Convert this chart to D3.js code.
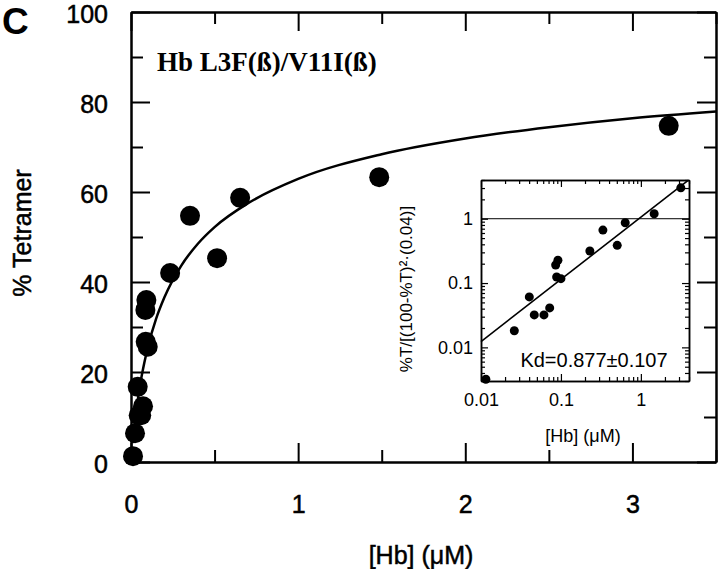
<!DOCTYPE html>
<html>
<head>
<meta charset="utf-8">
<script src="https://cdn.jsdelivr.net/npm/d3@7/dist/d3.min.js"></script>
<style>
  body { margin: 0; background: #fff; }
  svg { display: block; }
  text { font-family: "Liberation Sans", Arial, Helvetica, sans-serif; fill: #000; }
  .heavy { stroke: #000; stroke-width: 0.5px; }
</style>
</head>
<body>
<svg id="chart" width="720" height="569"></svg>
<script>
// ---- Main panel data ----
const hbMain = [0.012, 0.024, 0.040, 0.046, 0.061, 0.072, 0.086, 0.092, 0.088, 0.100, 0.234, 0.353, 0.515, 0.653, 1.485, 3.217];
const tetramer = [1.3, 6.4, 16.7, 10.4, 10.4, 12.4, 33.8, 36.0, 26.7, 25.6, 42.0, 54.7, 45.3, 58.7, 63.3, 74.7];
// fitted curve
const curveHb = [0.01, 0.02, 0.04, 0.06, 0.08, 0.1, 0.15, 0.2, 0.3, 0.4, 0.5, 0.7, 1.0, 1.5, 2.0, 2.5, 3.0, 3.5];
const curveT  = [4.2, 7.8, 13.6, 18.3, 22.1, 25.4, 31.8, 36.6, 43.6, 48.5, 52.2, 57.5, 62.9, 68.4, 71.9, 74.4, 76.4, 77.9];
const xMajorTicks = [0, 1, 2, 3];
const xMinorTicks = [0.5, 1.5, 2.5, 3.5];
const yMajorTicks = [0, 20, 40, 60, 80, 100];
const yMinorTicks = [10, 30, 50, 70, 90];

// ---- Inset data ----
const hbInset = [0.0115, 0.0261, 0.0402, 0.0464, 0.0613, 0.0723, 0.0859, 0.0917, 0.0884, 0.100, 0.230, 0.335, 0.506, 0.637, 1.466, 3.16];
const ratioInset = [0.0032, 0.0181, 0.0609, 0.032, 0.032, 0.0411, 0.191, 0.226, 0.124, 0.117, 0.315, 0.666, 0.386, 0.867, 1.195, 3.02];
const fitHb = [0.01, 3.9];
const fitRatio = [0.0123, 3.95];
const insetXTicks = [0.01, 0.1, 1];
const insetYTicks = [0.01, 0.1, 1];

const panelLetter = "C";
const titleText = "Hb L3F(ß)/V11I(ß)";
const xTitle = "[Hb] (μM)";
const yTitle = "% Tetramer";
const insetXTitle = "[Hb] (μM)";
const insetYTitle = "%T/[(100-%T)²·(0.04)]";
const kdText = "Kd=0.877±0.107";

const svg = d3.select("#chart");

// ---- Main scales ----
const x = d3.scaleLinear().domain([0, 3.5]).range([131, 716]);
const y = d3.scaleLinear().domain([0, 100]).range([462, 12]);

function styleAxis(g, w) {
  g.selectAll("path.domain").attr("stroke", "#000").attr("stroke-width", w);
  g.selectAll(".tick line").attr("stroke", "#000").attr("stroke-width", w);
}

// bottom
const gB = svg.append("g").attr("transform", `translate(0,${y(0)})`);
gB.call(d3.axisBottom(x).tickValues(xMajorTicks).tickSizeInner(-19).tickSizeOuter(0).tickPadding(33).tickFormat(d3.format("d")));
gB.selectAll("text").attr("font-size", 25).attr("class", "heavy");
styleAxis(gB, 2);
const gBm = svg.append("g").attr("transform", `translate(0,${y(0)})`);
gBm.call(d3.axisBottom(x).tickValues(xMinorTicks).tickSizeInner(-12).tickSizeOuter(0).tickFormat(""));
styleAxis(gBm, 2);
// top
const gT = svg.append("g").attr("transform", `translate(0,${y(100)})`);
gT.call(d3.axisTop(x).tickValues(xMajorTicks).tickSizeInner(-19).tickSizeOuter(0).tickFormat(""));
styleAxis(gT, 2);
const gTm = svg.append("g").attr("transform", `translate(0,${y(100)})`);
gTm.call(d3.axisTop(x).tickValues(xMinorTicks).tickSizeInner(-12).tickSizeOuter(0).tickFormat(""));
styleAxis(gTm, 2);
// left
const gL = svg.append("g").attr("transform", `translate(${x(0)},0)`);
gL.call(d3.axisLeft(y).tickValues(yMajorTicks).tickSizeInner(-19).tickSizeOuter(0).tickPadding(23).tickFormat(d3.format("d")));
gL.selectAll("text").attr("font-size", 25).attr("dy", "0.42em").attr("class", "heavy");
styleAxis(gL, 2);
const gLm = svg.append("g").attr("transform", `translate(${x(0)},0)`);
gLm.call(d3.axisLeft(y).tickValues(yMinorTicks).tickSizeInner(-12).tickSizeOuter(0).tickFormat(""));
styleAxis(gLm, 2);
// right
const gR = svg.append("g").attr("transform", `translate(${x(3.5)},0)`);
gR.call(d3.axisRight(y).tickValues(yMajorTicks).tickSizeInner(-19).tickSizeOuter(0).tickFormat(""));
styleAxis(gR, 2);
const gRm = svg.append("g").attr("transform", `translate(${x(3.5)},0)`);
gRm.call(d3.axisRight(y).tickValues(yMinorTicks).tickSizeInner(-12).tickSizeOuter(0).tickFormat(""));
styleAxis(gRm, 2);

// curve
const curvePts = curveHb.map((v, i) => [v, curveT[i]]);
svg.append("path")
  .datum(curvePts)
  .attr("fill", "none").attr("stroke", "#000").attr("stroke-width", 2.5)
  .attr("d", d3.line().x(d => x(d[0])).y(d => y(d[1])).curve(d3.curveMonotoneX));

// main points
svg.append("g").selectAll("circle")
  .data(hbMain.map((v, i) => [v, tetramer[i]]))
  .join("circle")
  .attr("cx", d => x(d[0])).attr("cy", d => y(d[1])).attr("r", 10)
  .attr("fill", "#000");

// texts
svg.append("text").attr("x", 2).attr("y", 34).attr("font-size", 37).attr("font-weight", "bold").text(panelLetter);
svg.append("text").attr("x", 157).attr("y", 71).attr("font-size", 27).attr("font-weight", "bold")
  .style("font-family", "'Liberation Serif', 'Times New Roman', serif").text(titleText);
svg.append("text").attr("x", 421).attr("y", 564).attr("text-anchor", "middle").attr("font-size", 25).attr("class", "heavy").text(xTitle);
svg.append("text").attr("transform", "translate(31,233) rotate(-90)").attr("text-anchor", "middle").attr("font-size", 25).attr("class", "heavy").text(yTitle);

// ---- Inset ----
const xi = d3.scaleLog().domain([0.01, 4]).range([481, 689]);
const yi = d3.scaleLog().domain([0.003, 4]).range([381, 180]);
const inset = svg.append("g");
inset.append("rect").attr("x", 481).attr("y", 180).attr("width", 208).attr("height", 201)
  .attr("fill", "#fff").attr("stroke", "none");

const xiMinor = [];
[0.01, 0.1, 1].forEach(dec => { for (let k = 2; k <= 9; k++) { const v = dec * k; if (v <= 4) xiMinor.push(v); } });
const yiMinor = [];
[0.001, 0.01, 0.1, 1].forEach(dec => { for (let k = 2; k <= 9; k++) { const v = dec * k; if (v >= 0.003 && v <= 4) yiMinor.push(v); } });

function insetAxis(axisFn, scale, vals, size, tx, ty, labels) {
  const g = inset.append("g").attr("transform", `translate(${tx},${ty})`);
  const a = axisFn(scale).tickValues(vals).tickSizeInner(-size).tickSizeOuter(0);
  if (labels) a.tickPadding(8).tickFormat(d => d3.format("")(d)); else a.tickFormat("");
  g.call(a);
  g.selectAll("path.domain").attr("stroke", "#000").attr("stroke-width", 1.5);
  g.selectAll(".tick line").attr("stroke", "#000").attr("stroke-width", 1.2);
  g.selectAll("text").attr("font-size", 18);
  return g;
}
const gIB = insetAxis(d3.axisBottom, xi, insetXTicks, 7, 0, 381, true);
gIB.selectAll("text").attr("dy", null).attr("y", 25);
insetAxis(d3.axisBottom, xi, xiMinor, 4, 0, 381, false);
insetAxis(d3.axisTop, xi, insetXTicks, 7, 0, 180, false);
insetAxis(d3.axisTop, xi, xiMinor, 4, 0, 180, false);
const gIL = insetAxis(d3.axisLeft, yi, insetYTicks, 7, 481, 0, true);
insetAxis(d3.axisLeft, yi, yiMinor, 4, 481, 0, false);
insetAxis(d3.axisRight, yi, insetYTicks, 7, 689, 0, false);
insetAxis(d3.axisRight, yi, yiMinor, 4, 689, 0, false);

// horizontal reference line at 1
inset.append("line").attr("x1", 481).attr("x2", 689).attr("y1", yi(1)).attr("y2", yi(1))
  .attr("stroke", "#000").attr("stroke-width", 1);

// fit line
inset.append("line")
  .attr("x1", xi(fitHb[0])).attr("y1", yi(fitRatio[0]))
  .attr("x2", xi(fitHb[1])).attr("y2", yi(fitRatio[1]))
  .attr("stroke", "#000").attr("stroke-width", 1.6);

// inset points
inset.append("g").selectAll("circle")
  .data(hbInset.map((v, i) => [v, ratioInset[i]]))
  .join("circle")
  .attr("cx", d => xi(d[0])).attr("cy", d => yi(d[1])).attr("r", 4.5).attr("fill", "#000");

inset.append("text").attr("x", 594).attr("y", 367).attr("text-anchor", "middle").attr("font-size", 20).text(kdText);
inset.append("text").attr("x", 583).attr("y", 442).attr("text-anchor", "middle").attr("font-size", 18).text(insetXTitle);
inset.append("text").attr("transform", "translate(412,289) rotate(-90)").attr("text-anchor", "middle").attr("font-size", 17).text(insetYTitle);
</script>
</body>
</html>
